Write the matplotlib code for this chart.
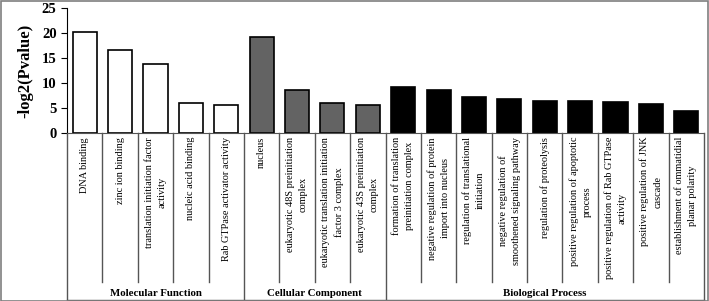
import matplotlib.pyplot as plt
import matplotlib.transforms as mtransforms
from matplotlib.patches import Rectangle

plt.rcParams['font.family'] = ['Liberation Serif', 'DejaVu Serif']

# data
mf_terms = ['DNA binding', 'zinc ion binding', 'translation initiation factor\nactivity',
            'nucleic acid binding', 'Rab GTPase activator activity']
mf_values = [20.3, 16.7, 13.9, 6.0, 5.7]

cc_terms = ['nucleus', 'eukaryotic 48S preinitiation\ncomplex',
            'eukaryotic translation initiation\nfactor 3 complex',
            'eukaryotic 43S preinitiation\ncomplex']
cc_values = [19.3, 8.7, 6.1, 5.7]

bp_terms = ['formation of translation\npreinitiation complex',
            'negative regulation of protein\nimport into nucleus',
            'regulation of translational\ninitiation',
            'negative regulation of\nsmoothened signaling pathway',
            'regulation of proteolysis',
            'positive regulation of apoptotic\nprocess',
            'positive regulation of Rab GTPase\nactivity',
            'positive regulation of JNK\ncascade',
            'establishment of ommatidial\nplanar polarity']
bp_values = [9.3, 8.7, 7.2, 6.9, 6.5, 6.5, 6.3, 5.9, 4.5]

groups = ['Molecular Function', 'Cellular Component', 'Biological Process']
group_colors = ['white', '#636363', 'black']

W, H = 709, 301
fig = plt.figure(figsize=(W / 100, H / 100), dpi=100)
ax = fig.add_axes([67 / W, 1 - 133 / H, (704 - 67) / W, 125 / H])

terms = mf_terms + cc_terms + bp_terms
values = mf_values + cc_values + bp_values
sizes = [len(mf_terms), len(cc_terms), len(bp_terms)]
colors = []
for c, n in zip(group_colors, sizes):
    colors += [c] * n

x = [i + 0.5 for i in range(len(terms))]
ax.bar(x, values, width=0.68, color=colors, edgecolor='black', linewidth=1.2)

ax.set_xlim(0, len(terms))
ax.set_ylim(0, 25)
ax.set_yticks([0, 5, 10, 15, 20, 25])
ax.tick_params(axis='y', direction='out', length=4, labelsize=10.5)
for lab in ax.get_yticklabels():
    lab.set_fontweight('bold')
ax.set_xticks([])
ax.set_ylabel('-log2(Pvalue)', fontsize=12, fontweight='bold', labelpad=6)
for s in ['top', 'right']:
    ax.spines[s].set_visible(False)
ax.spines['bottom'].set_color('#555555')

# category table below the axis
tr = mtransforms.blended_transform_factory(ax.transData, fig.transFigure)
y_axis = 1 - 133 / H
y_sep = 1 - 282 / H
y_bot = 1 - 299.5 / H
line_kw = dict(color='#555555', linewidth=1, transform=tr, clip_on=False)

bounds = [0]
for n in sizes:
    bounds.append(bounds[-1] + n)

for i in range(len(terms) + 1):
    if i in bounds:
        ax.plot([i, i], [y_axis, y_bot], **line_kw)
    else:
        ax.plot([i, i], [y_axis, y_sep], **line_kw)
ax.plot([0, len(terms)], [y_bot, y_bot], **line_kw)

for xi, t in zip(x, terms):
    ax.text(xi, 1 - 137 / H, t, rotation=90, ha='center', va='top',
            multialignment='center', fontsize=7.4, linespacing=1.55, transform=tr)

for g, a, b in zip(groups, bounds[:-1], bounds[1:]):
    ax.text((a + b) / 2, 1 - 294 / H, g, ha='center', va='center',
            fontsize=7.8, fontweight='bold', transform=tr)

fig.patches.append(Rectangle((0.5 / W, 0.5 / H), 1 - 1.5 / W, 1 - 1.5 / H,
                             transform=fig.transFigure, fill=False,
                             edgecolor='#7f7f7f', linewidth=1.2))

fig.savefig('out.png', dpi=100)
